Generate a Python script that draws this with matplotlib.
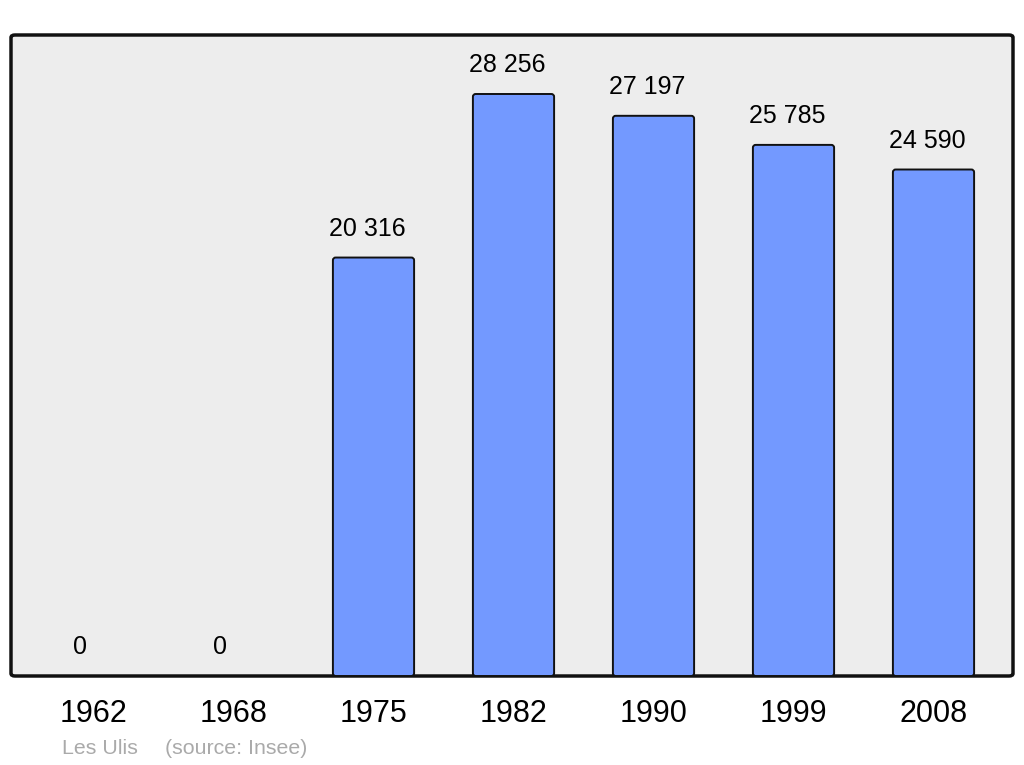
import matplotlib
matplotlib.use('Agg')
import matplotlib.pyplot as plt
from matplotlib.patches import FancyBboxPatch
import numpy as np

matplotlib.rcParams['font.family'] = ['Liberation Sans', 'DejaVu Sans']

years = ['1962', '1968', '1975', '1982', '1990', '1999', '2008']
population = [0, 0, 20316, 28256, 27197, 25785, 24590]
town = 'Les Ulis'
source = '(source: Insee)'


def fmt(v):
    return f'{v:,}'.replace(',', ' ')


fig = plt.figure(figsize=(10.24, 7.65), dpi=100)
ax = fig.add_axes([11 / 1024, 1 - 676 / 765, 1002 / 1024, 641 / 765])
ax.set_facecolor('none')

# rounded frame with grey fill
frame = FancyBboxPatch((0, 0), 1, 1, boxstyle='round,pad=0,rounding_size=0.004',
                       transform=ax.transAxes, facecolor='#ededed',
                       edgecolor='#111111', linewidth=2.5, zorder=0, clip_on=False)
ax.add_patch(frame)

x = np.arange(len(years))
bars = ax.bar(x, population, width=0.58, color='#7399ff', edgecolor='#111111',
              linewidth=1.4, zorder=2)

# swap plain rectangles for slightly rounded ones
for rect in bars:
    if rect.get_height() <= 0:
        continue
    rect.set_visible(False)
    ax.add_patch(FancyBboxPatch((rect.get_x(), rect.get_y()), rect.get_width(),
                                rect.get_height(),
                                boxstyle='round,pad=0,rounding_size=0.02',
                                mutation_aspect=6800, facecolor='#7399ff',
                                edgecolor='#111111', linewidth=1.4, zorder=2))

for xi, v in zip(x, population):
    ax.annotate(fmt(v), xy=(xi, v), xytext=(-4.5 if v else -9.5, 15.5),
                textcoords='offset points', ha='center', va='baseline',
                fontsize=18, color='black', zorder=3)

for xi, y in zip(x, years):
    ax.text(xi, -46 / 641, y, transform=ax.get_xaxis_transform(),
            ha='center', va='baseline', fontsize=22, color='black')

ax.set_xlim((11 - 93.5) / 140, (1013 - 93.5) / 140)
ax.set_ylim(0, 31120)
ax.set_xticks([])
ax.set_yticks([])
for s in ax.spines.values():
    s.set_visible(False)

fig.text(62 / 1024, 1 - 754 / 765, town, fontsize=15.4, color='#aaaaaa',
         ha='left', va='baseline')
fig.text(165 / 1024, 1 - 754 / 765, source, fontsize=15.4, color='#aaaaaa',
         ha='left', va='baseline')

fig.savefig('out.png', dpi=100, facecolor='white')
